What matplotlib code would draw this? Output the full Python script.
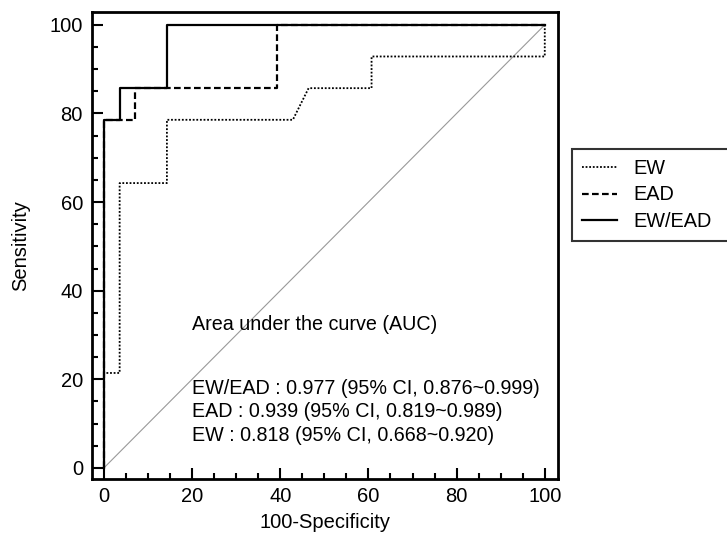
import matplotlib
matplotlib.use("Agg")
import matplotlib.pyplot as plt
from matplotlib.ticker import MultipleLocator

plt.rcParams["font.family"] = ["Liberation Sans", "DejaVu Sans"]

# ROC step curves (100-Specificity, Sensitivity)
ew_x = [0, 0, 3.57, 3.57, 14.29, 14.29, 42.86, 46.43, 60.71, 60.71, 100, 100]
ew_y = [0, 21.43, 21.43, 64.29, 64.29, 78.57, 78.57, 85.71, 85.71, 92.86, 92.86, 100]

ead_x = [0, 0, 7.14, 7.14, 39.29, 39.29, 100]
ead_y = [0, 78.57, 78.57, 85.71, 85.71, 100, 100]

ewead_x = [0, 0, 3.57, 3.57, 14.29, 14.29, 100]
ewead_y = [0, 78.57, 78.57, 85.71, 85.71, 100, 100]

labels = ["EW", "EAD", "EW/EAD"]
auc_lines = [
    "EW/EAD : 0.977 (95% CI, 0.876~0.999)",
    "EAD : 0.939 (95% CI, 0.819~0.989)",
    "EW : 0.818 (95% CI, 0.668~0.920)",
]

fig = plt.figure(figsize=(7.27, 5.41), dpi=100)
ax = fig.add_axes([92 / 727, 1 - 479 / 541, 466 / 727, 467 / 541])

ax.plot([0, 100], [0, 100], color="#999999", lw=0.8)
l1, = ax.plot(ew_x, ew_y, color="black", lw=1.3, ls=(0, (1, 1)))
l2, = ax.plot(ead_x, ead_y, color="black", lw=1.6, ls=(0, (3, 1.5)))
l3, = ax.plot(ewead_x, ewead_y, color="black", lw=1.6, ls="-")

ax.set_xlim(-2.7, 103)
ax.set_ylim(-2.5, 102.9)
ax.xaxis.set_major_locator(MultipleLocator(20))
ax.xaxis.set_minor_locator(MultipleLocator(5))
ax.yaxis.set_major_locator(MultipleLocator(20))
ax.yaxis.set_minor_locator(MultipleLocator(5))
ax.tick_params(which="major", direction="in", length=8, width=1.5, labelsize=14.5)
ax.tick_params(axis="x", which="major", pad=6)
ax.tick_params(axis="y", which="major", pad=6.5)
ax.tick_params(which="minor", direction="in", length=4.5, width=1.5)
for s in ax.spines.values():
    s.set_linewidth(2)

ax.set_xlabel("100-Specificity", fontsize=14.5, labelpad=5)
ax.set_ylabel("Sensitivity", fontsize=14.5, labelpad=14)

ax.text(20, 32.3, "Area under the curve (AUC)", fontsize=14.2, va="center")
for i, line in enumerate(auc_lines):
    ax.text(20, 18.0 - i * 5.3, line, fontsize=14.2, va="center")

# legend box runs off the right edge of the figure, as in the source
leg = fig.legend([l1, l2, l3], labels, loc="upper left",
                 bbox_to_anchor=(572 / 727, 1 - 240 / 541, 0.25, 91 / 541),
                 mode="expand", fontsize=14.3,
                 frameon=True, fancybox=False, borderaxespad=0,
                 handlelength=1.75, handletextpad=0.85, labelspacing=0.38,
                 borderpad=0.5)
leg.get_frame().set_edgecolor("black")
leg.get_frame().set_linewidth(1.5)

fig.savefig("out.png", dpi=100)
